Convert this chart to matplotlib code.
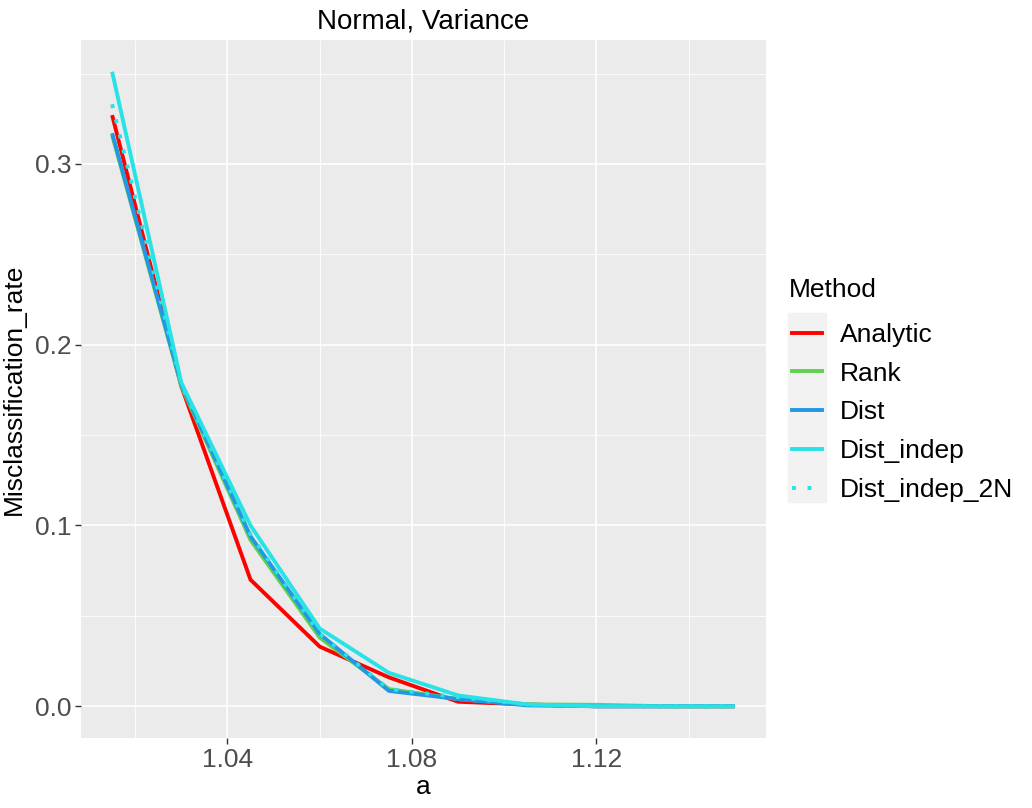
import numpy as np
import matplotlib.pyplot as plt
from matplotlib.patches import Rectangle
from matplotlib.lines import Line2D

plt.rcParams['font.family'] = ['Liberation Sans', 'DejaVu Sans']

# значения
a = [1.015, 1.03, 1.045, 1.06, 1.075, 1.09, 1.105, 1.12, 1.135, 1.15]
analytic = [0.327, 0.177, 0.070, 0.033, 0.016, 0.0025, 0.001, 0.0, 0.0, 0.0]
rank = [0.316, 0.177, 0.092, 0.038, 0.0095, 0.004, 0.001, 0.0008, 0.0, 0.0]
dist = [0.317, 0.178, 0.094, 0.040, 0.0085, 0.004, 0.0005, 0.0, 0.0, 0.0]
dist_indep = [0.351, 0.179, 0.100, 0.043, 0.0185, 0.006, 0.001, 0.0, 0.0, 0.0]
dist_indep_2n = [0.333, 0.178, 0.095, 0.040, 0.0095, 0.005, 0.001, 0.0, 0.0, 0.0]

methods = ['Analytic', 'Rank', 'Dist', 'Dist_indep', 'Dist_indep_2N']
series = [analytic, rank, dist, dist_indep, dist_indep_2n]
colors = ['#FF0000', '#61D04F', '#2297E6', '#28E2E5', '#28E2E5']
styles = ['-', '-', '-', '-', (0, (1, 3))]

fig = plt.figure(figsize=(10.32, 8.08), dpi=100)
ax = fig.add_axes([81 / 1032, 70 / 808, 685 / 1032, 698 / 808])
ax.set_facecolor('#EBEBEB')

for name, vals, c, ls in zip(methods, series, colors, styles):
    ax.plot(a, vals, color=c, linestyle=ls, lw=2.8, label=name, solid_capstyle='butt')

# шкалы как в ggplot (расширение 5%)
xr = max(a) - min(a)
ax.set_xlim(min(a) - 0.05 * xr, max(a) + 0.05 * xr)
ymax = max(max(s) for s in series)
ax.set_ylim(-0.05 * ymax, ymax * 1.05)

ax.set_xticks([1.04, 1.08, 1.12])
ax.set_xticks([1.02, 1.06, 1.10, 1.14], minor=True)
ax.set_yticks([0.0, 0.1, 0.2, 0.3])
ax.set_yticks([0.05, 0.15, 0.25, 0.35], minor=True)
ax.set_xticklabels(['1.04', '1.08', '1.12'])
ax.set_yticklabels(['0.0', '0.1', '0.2', '0.3'])

ax.grid(which='major', color='white', lw=1.2)
ax.grid(which='minor', color='white', lw=0.6)
ax.set_axisbelow(True)
for sp in ax.spines.values():
    sp.set_visible(False)
ax.tick_params(which='major', length=4, width=1, color='#333333', labelsize=19,
               labelcolor='#4D4D4D', pad=3)
ax.tick_params(which='minor', length=0)

ax.set_title('Normal, Variance', fontsize=20, pad=8)
ax.set_xlabel('a', fontsize=19, labelpad=2)
ax.set_ylabel('Misclassification_rate', fontsize=19, labelpad=6)

# легенда
handles = [Line2D([], [], color=c, linestyle=ls, lw=2.8) for c, ls in zip(colors, styles)]
fig.patches.append(Rectangle((788 / 1032, 1 - 502 / 808), 38 / 1032, 189 / 808,
                             transform=fig.transFigure, color='#F2F2F2', zorder=0))
fig.text(789 / 1032, 1 - 290 / 808, 'Method', fontsize=19, va='center', ha='left')
leg = fig.legend(handles, methods, loc='upper left',
                 bbox_to_anchor=(768 / 1032, 1 - 299 / 808), frameon=False,
                 fontsize=19, handlelength=1.14, handletextpad=0.68,
                 labelspacing=0.56)

fig.savefig('out.png', dpi=100)
